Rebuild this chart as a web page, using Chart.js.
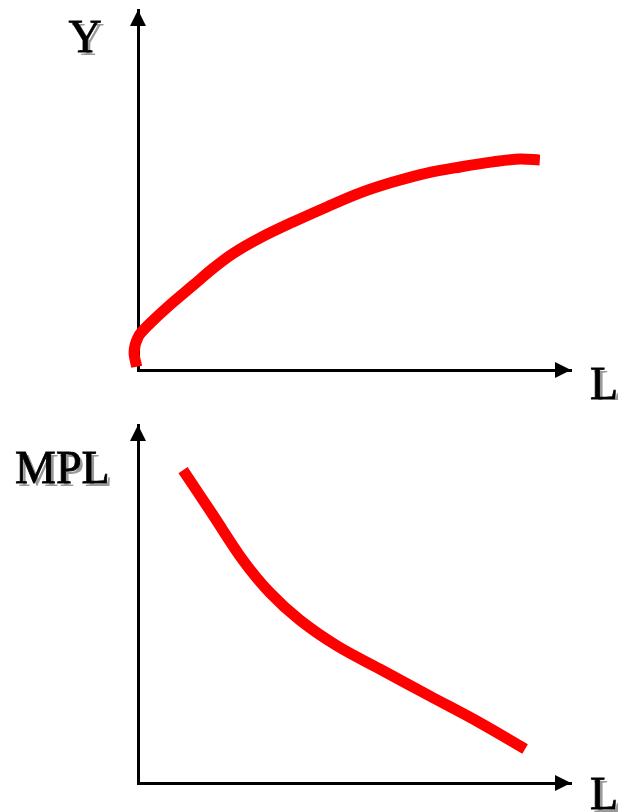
<!DOCTYPE html>
<html lang="en">
<head>
    <meta charset="UTF-8">
    <title>Production function and MPL</title>
    <style>
        body {
            margin: 0;
            padding: 0;
            background-color: #ffffff;
            width: 618px;
            height: 812px;
            position: relative;
            overflow: hidden;
        }

        canvas {
            position: absolute;
            left: 0;
        }

        #outputChart { top: 0; }
        #mplChart { top: 400px; }
    </style>
</head>
<body>
    <canvas id="outputChart" width="618" height="400"></canvas>
    <canvas id="mplChart" width="618" height="412"></canvas>

    <script src="https://cdn.jsdelivr.net/npm/chart.js"></script>
    <script>
        // Y = F(L): output rises with labour, but ever more slowly
        const outputL = [-0.3, -0.9, 0.1, 2.4, 7.4, 12.8, 17.4, 22.0, 28.2, 35.8, 43.6, 51.3, 58.9, 66.7, 74.4, 82.0, 88.2, 92.8];
        const outputY = [0.9, 5.1, 9.3, 12.5, 18.1, 23.6, 28.3, 32.4, 36.7, 41.1, 45.3, 49.2, 52.2, 54.7, 56.4, 57.8, 58.6, 58.3];

        // MPL falls as labour rises
        const mplL = [10.4, 17.3, 24.2, 30.5, 37.4, 46.0, 55.9, 67.4, 79.0, 89.4];
        const mplY = [87.4, 74.9, 62.3, 53.1, 45.5, 38.3, 31.8, 24.3, 16.8, 9.5];

        const axisLabels = {
            top: { y: 'Y', x: 'L' },
            bottom: { y: 'MPL', x: 'L' }
        };

        // arrows on the axis ends + the axis letters (with a grey drop shadow)
        const axisArrows = {
            id: 'axisArrows',
            afterDraw(chart, args, opts) {
                const ctx = chart.ctx;
                const xs = chart.scales.x;
                const ys = chart.scales.y;
                const ox = xs.left;
                const oy = ys.bottom;

                ctx.save();
                ctx.fillStyle = '#000';
                // y arrow
                ctx.beginPath();
                ctx.moveTo(ox, ys.top);
                ctx.lineTo(ox - 8, ys.top + 16);
                ctx.lineTo(ox + 8, ys.top + 16);
                ctx.closePath();
                ctx.fill();
                // x arrow
                ctx.beginPath();
                ctx.moveTo(xs.right, oy);
                ctx.lineTo(xs.right - 16, oy - 8);
                ctx.lineTo(xs.right - 16, oy + 8);
                ctx.closePath();
                ctx.fill();

                ctx.font = '46px "Liberation Serif", "Times New Roman", serif';
                ctx.textBaseline = 'alphabetic';
                const drawText = (txt, x, y, align) => {
                    ctx.textAlign = align;
                    ctx.fillStyle = '#999999';
                    ctx.fillText(txt, x + 3, y + 3);
                    ctx.fillStyle = '#000000';
                    ctx.fillText(txt, x, y);
                    ctx.lineWidth = 0.8;
                    ctx.strokeStyle = '#000000';
                    ctx.strokeText(txt, x, y);
                };
                drawText(opts.yLabel, opts.yLabelX, opts.yLabelY, opts.yAlign || 'center');
                drawText(opts.xLabel, xs.right + 19, oy + opts.xLabelDy, 'left');
                ctx.restore();
            }
        };

        function makeChart(id, xs, ys, pad, labelOpts) {
            const pts = xs.map((x, i) => ({ x: x, y: ys[i] }));
            return new Chart(document.getElementById(id), {
                type: 'scatter',
                data: {
                    datasets: [{
                        data: pts,
                        showLine: true,
                        borderColor: '#ff0000',
                        borderWidth: 11,
                        borderCapStyle: 'butt',
                        borderJoinStyle: 'round',
                        tension: 0.35,
                        pointRadius: 0,
                        clip: false
                    }]
                },
                options: {
                    responsive: false,
                    animation: false,
                    layout: { padding: pad },
                    plugins: {
                        legend: { display: false },
                        tooltip: { enabled: false },
                        axisArrows: labelOpts
                    },
                    scales: {
                        x: {
                            type: 'linear',
                            min: 0,
                            max: 100,
                            grid: { display: false },
                            ticks: { display: false },
                            border: { display: true, color: '#000', width: 3 },
                            afterFit(scale) { scale.height = 0; }
                        },
                        y: {
                            type: 'linear',
                            min: 0,
                            max: 100,
                            grid: { display: false },
                            ticks: { display: false },
                            border: { display: true, color: '#000', width: 3 },
                            afterFit(scale) { scale.width = 0; }
                        }
                    }
                },
                plugins: [axisArrows]
            });
        }

        makeChart('outputChart', outputL, outputY,
            { left: 138, right: 47, top: 10, bottom: 30 },
            { yLabel: axisLabels.top.y, yLabelX: 85, yLabelY: 52, xLabel: axisLabels.top.x, xLabelDy: 29 });

        makeChart('mplChart', mplL, mplY,
            { left: 138, right: 47, top: 25, bottom: 29 },
            { yLabel: axisLabels.bottom.y, yLabelX: 15, yLabelY: 83, yAlign: 'left', xLabel: axisLabels.bottom.x, xLabelDy: 26 });
    </script>
</body>
</html>
